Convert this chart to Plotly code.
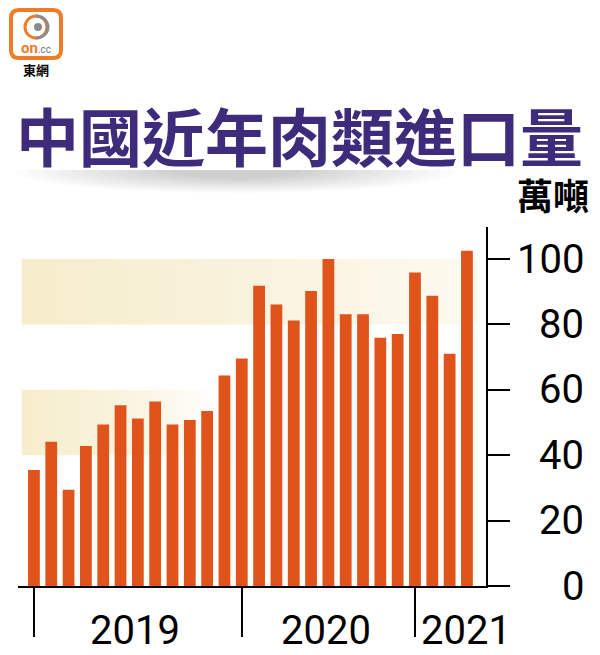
import plotly.graph_objects as go

# monthly meat imports, 10k tonnes
years = ["2019"] * 12 + ["2020"] * 10 + ["2021"] * 4
values = [35.5, 44.1, 29.4, 42.8, 49.4, 55.3, 51.2, 56.4, 49.4, 50.8, 53.5, 64.4,
          69.6, 91.8, 86.1, 81.2, 90.2, 100.0, 83.1, 83.1, 75.9, 77.1,
          95.9, 88.8, 71.0, 102.5]
yticks = [0, 20, 40, 60, 80, 100]
bands = [(40, 60), (80, 100)]
year_names = ["2019", "2020", "2021"]

# page body has an 8px margin, so the figure starts at (8, 8) of the window
OFF = 8
W, H = 600 - OFF, 655 - OFF
L, R, T, B = 18 - OFF, 114, 227 - OFF, 69
ORANGE = "#e0531b"
PURPLE = "#3f2b7b"
NUM_FONT = "Roboto"
CJK_FONT = "Noto Sans CJK TC"


# window pixels -> paper coords
def px(x):
    return (x - 18) / 468


def py(y):
    return (586 - y) / 359


idx = list(range(len(values)))
year_starts = [years.index(y) for y in year_names]
xr = [-0.92, 26.1]
yr = [0, 109.8]

fig = go.Figure()

# pale background bands (main axes, under the bars)
band_x = [(-0.7, 10.9), (-0.7, 25.6)]
band_scales = [
    [[0, "#f6edcb"], [0.55, "#faf4e1"], [1, "#ffffff"]],
    [[0, "#f6edcb"], [0.5, "#f9f2dd"], [1, "#fdfaf0"]],
]
for (lo, hi), (x0, x1), cs in zip(bands, band_x, band_scales):
    fig.add_trace(go.Scatter(
        x=[x0, x1, x1, x0, x0], y=[lo, lo, hi, hi, lo],
        mode="lines", fill="toself", line=dict(width=0),
        fillgradient=dict(type="horizontal", colorscale=cs),
        hoverinfo="skip", showlegend=False))

# bars on an overlaying pair of axes so they sit above the bands
fig.add_trace(go.Bar(x=idx, y=values, width=0.68, marker=dict(color=ORANGE, line=dict(width=0)),
                     customdata=years, hovertemplate="%{customdata}: %{y}<extra></extra>",
                     xaxis="x2", yaxis="y2", showlegend=False))

shapes = []
# soft shadow under the title
for i in range(12):
    hw = 220 - i * 14
    hh = 22 - i * 1.3
    shapes.append(dict(type="circle", xref="paper", yref="paper",
                       x0=px(235 - hw), x1=px(235 + hw), y0=py(171 - hh), y1=py(171 + hh),
                       fillcolor="rgba(0,0,0,0.014)", line=dict(width=0), layer="above"))
shapes.append(dict(type="rect", xref="paper", yref="paper", x0=px(0), x1=px(500),
                   y0=py(170), y1=py(145), fillcolor="white", line=dict(width=0), layer="above"))

# on.cc logo
x0, y0, x1, y1, r = 11, 10, 61, 58, 8
path = (f"M{px(x0 + r)},{py(y0)} L{px(x1 - r)},{py(y0)} Q{px(x1)},{py(y0)} {px(x1)},{py(y0 + r)} "
        f"L{px(x1)},{py(y1 - r)} Q{px(x1)},{py(y1)} {px(x1 - r)},{py(y1)} "
        f"L{px(x0 + r)},{py(y1)} Q{px(x0)},{py(y1)} {px(x0)},{py(y1 - r)} "
        f"L{px(x0)},{py(y0 + r)} Q{px(x0)},{py(y0)} {px(x0 + r)},{py(y0)} Z")
shapes.append(dict(type="path", xref="paper", yref="paper", path=path,
                   line=dict(color="#f07b2b", width=4), fillcolor="white"))
shapes.append(dict(type="circle", xref="paper", yref="paper", x0=px(25), x1=px(47), y0=py(38), y1=py(16),
                   line=dict(color="#f07b2b", width=3)))
shapes.append(dict(type="path", xref="paper", yref="paper",
                   path=(f"M{px(36)},{py(16)} C{px(43)},{py(16)} {px(48)},{py(21)} {px(48)},{py(27)} "
                         f"C{px(48)},{py(33)} {px(43)},{py(38)} {px(36)},{py(38)}"),
                   line=dict(color="#8c8c8c", width=3)))
shapes.append(dict(type="circle", xref="paper", yref="paper", x0=px(34), x1=px(42), y0=py(31), y1=py(23),
                   fillcolor="#8c8c8c", line=dict(width=0)))

annotations = [
    dict(text="<b>中國近年肉類進口量</b>", x=px(299), y=py(134), font=dict(family=CJK_FONT, size=63, color=PURPLE)),
    dict(text="<b>萬噸</b>", x=px(553), y=py(194), font=dict(family=CJK_FONT, size=36, color="black")),
    dict(text='<b><span style="color:#f07b2b">on</span></b><span style="color:#777777;font-size:10px">.cc</span>',
         x=px(36), y=py(48), font=dict(family="Roboto", size=15)),
    dict(text="<b>東網</b>", x=px(36), y=py(69), font=dict(family=CJK_FONT, size=13, color="black")),
]
for a in annotations:
    a.update(xref="paper", yref="paper", xanchor="center", yanchor="middle", showarrow=False)

for v in yticks:
    annotations.append(dict(text=str(v), x=1, xref="paper", xanchor="right", xshift=100,
                            y=v, yref="y", yanchor="middle", showarrow=False,
                            font=dict(family=NUM_FONT, size=40, color="black")))

label_pos = [(year_starts[i] + year_starts[i + 1]) / 2 - 0.15 for i in range(len(year_starts) - 1)]
label_pos.append(year_starts[-1] + 2.95)
for name, xpos in zip(year_names, label_pos):
    annotations.append(dict(text=name, x=xpos, xref="x", y=0, yref="paper", yanchor="middle",
                            yshift=-44, showarrow=False,
                            font=dict(family=NUM_FONT, size=40, color="black")))

fig.update_layout(
    width=W, height=H,
    margin=dict(l=L, r=R, t=T, b=B, autoexpand=False),
    paper_bgcolor="white", plot_bgcolor="white",
    xaxis=dict(range=xr, showgrid=False, zeroline=False, showline=True,
               linecolor="black", linewidth=2, ticks="outside", tickvals=year_starts,
               ticklen=49, tickwidth=2, tickcolor="black", showticklabels=False),
    yaxis=dict(range=yr, side="right", showgrid=False, zeroline=False, showline=True,
               linecolor="black", linewidth=2, ticks="outside", tickvals=yticks,
               ticklen=22, tickwidth=2, tickcolor="black", showticklabels=False),
    xaxis2=dict(range=xr, overlaying="x", visible=False),
    yaxis2=dict(range=yr, overlaying="y", visible=False),
    shapes=shapes,
    annotations=annotations,
)

fig.write_html("out.html")
